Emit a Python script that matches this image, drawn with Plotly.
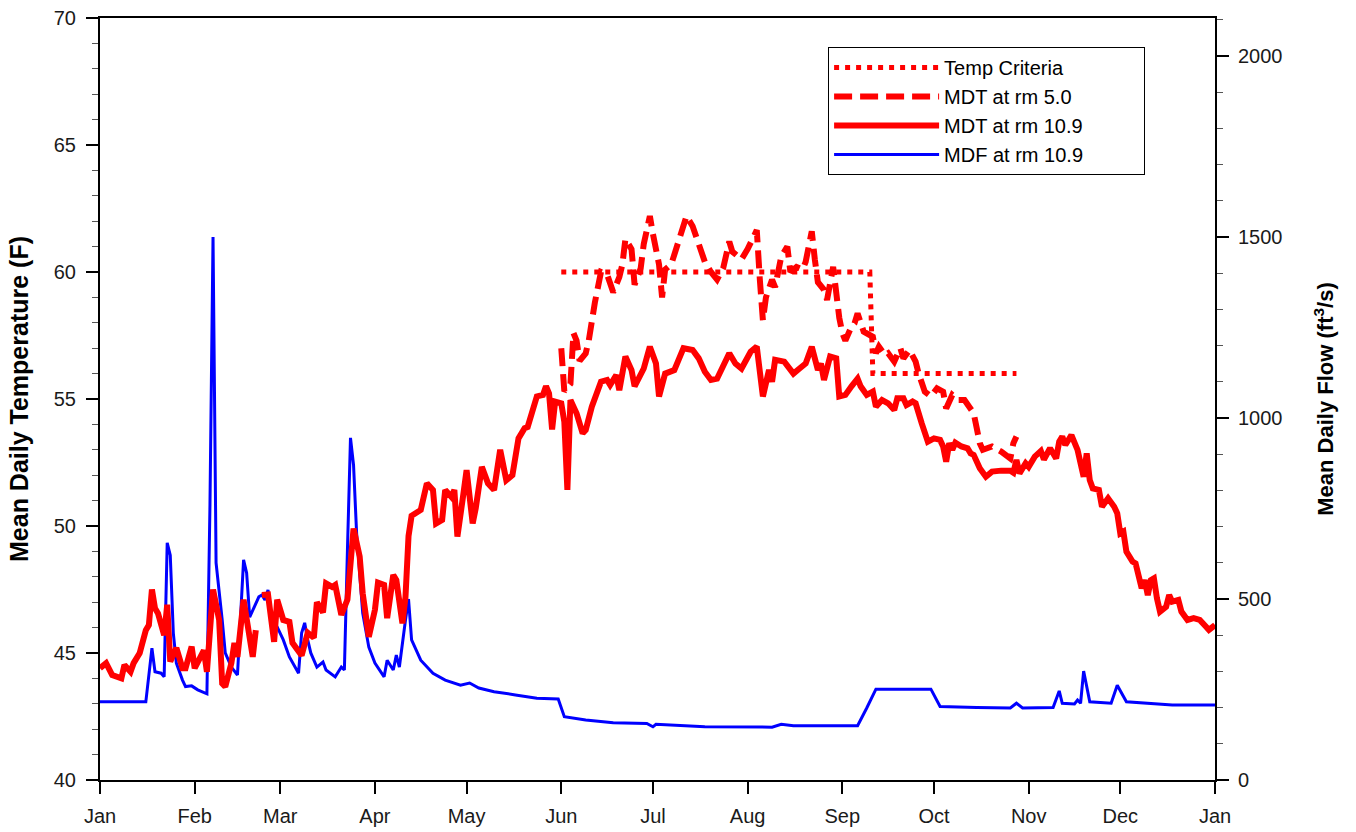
import pandas as pd
import plotly.graph_objects as go

YEAR_START = pd.Timestamp("2010-01-01")

# day-of-year offsets (0 = Jan 1) and values
flow_day = [0, 15, 17, 18, 20, 21, 22, 23, 24, 25, 27, 28, 30, 32, 35, 36, 37, 38, 40, 41, 43, 45,
            47, 48, 49, 51, 52, 53, 54, 55, 56, 58, 60, 62, 64, 65, 66, 67, 68, 69, 71, 73, 74, 77,
            79, 80, 81, 82, 83, 84, 86, 88, 90, 93, 94, 96, 97, 98, 100, 101, 102, 105, 109, 113,
            118, 121, 124, 129, 136, 143, 150, 152, 159, 168, 179, 181, 182, 198, 220, 223, 227,
            248, 251, 254, 272, 275, 287, 298, 300, 302, 312, 314, 315, 319, 320, 321, 322, 324,
            331, 333, 336, 342, 351, 365]
flow_cfs = [216, 216, 364, 299, 295, 285, 655, 621, 406, 323, 276, 258, 260, 249, 238, 760, 1500,
            600, 442, 351, 312, 290, 608, 572, 450, 489, 506, 511, 497, 525, 450, 423, 387, 340,
            309, 295, 406, 434, 387, 351, 312, 326, 304, 285, 312, 304, 635, 945, 870, 682, 461,
            367, 323, 285, 331, 304, 345, 312, 442, 500, 387, 331, 295, 276, 262, 268, 254, 244,
            235, 226, 224, 175, 166, 158, 156, 147, 154, 147, 146, 154, 150, 150, 199, 251, 251,
            203, 200, 199, 212, 199, 200, 246, 212, 210, 221, 212, 301, 216, 212, 262, 216, 212,
            207, 207]

t109_day = [0, 2, 4, 7, 8, 10, 11, 13, 15, 16, 17, 18, 19, 21, 22, 23, 25, 27, 28, 30, 31, 33, 34,
            35, 37, 39, 40, 41, 43, 44, 45, 47, 49, 50, 51, 52, 53, 55, 57, 58, 60, 62, 63, 64, 66,
            68, 70, 71, 73, 74, 76, 77, 79, 81, 83, 85, 86, 88, 90, 91, 93, 94, 96, 97, 99, 100,
            101, 102, 105, 107, 109, 110, 112, 113, 115, 116, 117, 119, 120, 122, 123, 125, 127,
            129, 131, 133, 135, 137, 139, 140, 143, 145, 146, 147, 148, 149, 151, 152, 153, 154,
            156, 158, 159, 161, 163, 164, 166, 167, 169, 170, 172, 174, 175, 178, 180, 182, 183,
            185, 188, 189, 191, 194, 196, 198, 200, 202, 204, 206, 208, 210, 213, 215, 217, 219,
            220, 221, 224, 225, 227, 229, 231, 233, 235, 236, 237, 239, 241, 242, 244, 246, 248,
            249, 251, 253, 254, 256, 258, 260, 261, 263, 264, 266, 267, 269, 271, 273, 275, 276,
            277, 278, 279, 280, 282, 284, 285, 286, 288, 290, 292, 295, 298, 299, 300, 301, 303,
            304, 306, 308, 309, 311, 313, 314, 315, 316, 318, 320, 321, 322, 323, 324, 325, 327,
            328, 330, 332, 333, 334, 335, 336, 338, 339, 340, 341, 342, 343, 344, 345, 346, 347,
            349, 350, 351, 353, 354, 356, 358, 360, 362, 363, 365]
t109_f = [44.4, 44.6, 44.13, 44.0, 44.53, 44.26, 44.6, 45.0, 45.9, 46.1, 47.5, 46.76, 46.56, 45.7,
          46.9, 44.66, 45.2, 44.4, 44.4, 45.25, 44.4, 44.85, 45.1, 44.26, 47.5, 46.3, 43.8, 43.67,
          44.6, 45.4, 44.85, 47.1, 45.8, 44.85, 45.9, None, 47.28, 47.3, 45.44, 47.1, 46.3, 46.23,
          45.4, 45.25, 44.9, 45.8, 45.6, 47.0, 46.6, 47.74, 47.6, 47.68, 46.5, 47.1, 49.9, 48.8,
          47.35, 45.64, 46.7, 47.77, 47.68, 46.37, 48.07, 47.87, 46.17, 47.2, 49.6, 50.4, 50.63,
          51.68, 51.42, 50.1, 50.24, 51.42, 51.15, 51.42, 49.58, 51.3, 52.2, 50.1, 50.7, 52.33,
          51.68, 51.42, 53.0, 51.8, 52.0, 53.45, 53.85, 53.9, 55.1, 55.16, 55.5, 55.22, 53.8, 54.9,
          54.83, 54.1, 51.42, 54.96, 54.44, 53.65, 53.78, 54.7, 55.35, 55.68, 55.75, 55.55, 55.94,
          55.35, 56.67, 56.14, 55.5, 56.2, 57.06, 56.4, 55.1, 56.0, 56.14, 56.4, 57.0, 56.93, 56.6,
          56.07, 55.75, 55.8, 56.27, 56.8, 56.4, 56.2, 56.86, 57.06, 55.1, 56.14, 55.68, 56.54,
          56.47, 56.34, 56.0, 56.2, 56.4, 57.06, 56.14, 56.4, 55.75, 56.67, 56.6, 55.1, 55.16,
          55.5, 55.8, 55.5, 55.16, 55.29, 54.7, 54.96, 54.83, 54.57, 55.03, 55.03, 54.76, 54.9,
          54.83, 54.04, 53.32, 53.45, 53.39, 53.13, 52.53, 53.26, 53.0, 53.28, 53.13, 53.06, 52.86,
          52.8, 52.27, 51.94, 52.14, 52.18, 52.18, 52.1, 52.6, 52.07, 52.47, 52.33, 52.73, 52.95,
          52.62, 53.06, 52.66, 53.32, 53.52, 53.19, 53.58, 53.0, 52.47, 51.94, 52.86, 51.81, 51.48,
          51.42, 50.76, 51.09, 50.76, 50.5, 49.71, 49.78, 48.99, 48.6, 48.53, 48.0, 47.55, 47.87,
          47.28, 47.87, 47.94, 47.15, 46.63, 46.82, 47.28, 47.02, 47.09, 46.63, 46.3, 46.37, 46.3,
          46.04, 45.91, 46.1]

t50_day = [151, 152, 154, 155, 156, 157, 159, 160, 162, 163, 164, 166, 168, 170, 171, 172, 174, 175,
           177, 178, 180, 181, 183, 184, 185, 187, 189, 192, 194, 196, 198, 200, 202, 204, 206, 207,
           210, 212, 215, 216, 217, 218, 220, 221, 223, 225, 226, 228, 230, 231, 233, 234, 235, 237,
           238, 240, 241, 242, 243, 244, 246, 247, 248, 250, 253, 254, 255, 257, 258, 260, 262, 263,
           265, 267, 268, 269, 270, 272, 274, 276, 277, 279, 281, 283, 285, 286, 287, 288, 289, 292,
           295, 298, 299, 300]
t50_f = [57.0, 55.3, 55.6, 57.6, 57.3, 56.5, 56.8, 57.3, 58.8, 59.5, 60.0, 59.9, 59.2, 59.8, 60.3,
         61.3, 60.9, 59.5, 60.15, 61.1, 62.2, 61.5, 60.3, 59.0, 60.1, 60.3, 61.0, 62.2, 61.8, 61.1,
         60.4, 60.0, 59.7, 60.15, 61.2, 60.8, 60.5, 60.9, 61.65, 59.7, 58.1, 59.0, 59.7, 59.4, 60.6,
         61.0, 60.0, 60.2, 60.1, 60.4, 61.6, 60.5, 59.6, 59.3, 58.9, 60.2, 59.0, 58.2, 57.6, 57.3,
         57.85, 57.98, 58.37, 57.65, 57.45, 56.8, 57.06, 56.73, 56.8, 56.47, 57.0, 56.6, 56.93,
         56.47, 56.0, 55.6, 55.29, 55.1, 55.42, 55.29, 54.63, 55.16, 54.96, 54.96, 54.63, 54.44,
         53.85, 53.26, 53.0, 53.13, 52.93, 52.66, 53.26, 53.52]

crit_day = [151, 252, 253, 300]
crit_f = [60, 60, 56, 56]


def to_dates(days):
    return YEAR_START + pd.to_timedelta(days, unit="D")


FONT = "Arial, Liberation Sans, sans-serif"
RED = "#FF0000"
BLUE = "#0000FF"
NBSP = "\u00a0"

fig = go.Figure()
fig.add_trace(go.Scatter(
    x=to_dates(flow_day), y=flow_cfs, mode="lines", name="MDF at rm 10.9",
    line=dict(color=BLUE, width=3), yaxis="y", legendrank=4, legendgroup="d",
))
fig.add_trace(go.Scatter(
    x=to_dates(crit_day), y=crit_f, mode="lines", name="Temp Criteria",
    line=dict(color=RED, width=5, dash="5px,6px"), yaxis="y2", legendrank=1, legendgroup="a",
))
fig.add_trace(go.Scatter(
    x=to_dates(t50_day), y=t50_f, mode="lines", name="MDT at rm 5.0",
    line=dict(color=RED, width=6, dash="18px,8px"), yaxis="y2", legendrank=2, legendgroup="b",
))
fig.add_trace(go.Scatter(
    # trailing spaces widen the legend box on the right like the original
    x=to_dates(t109_day), y=t109_f, mode="lines", name="MDT at rm 10.9" + NBSP * 10,
    line=dict(color=RED, width=6), yaxis="y2", legendrank=3, legendgroup="c",
    connectgaps=False,
))

tickfont = dict(family=FONT, size=20, color="#1a1a1a")

fig.update_layout(
    width=1356, height=832,
    paper_bgcolor="white", plot_bgcolor="white",
    margin=dict(l=100, r=141, t=18, b=52, autoexpand=False),
    font=dict(family=FONT, color="#000000"),
    showlegend=True,
    legend=dict(
        x=0.653, y=0.962, xanchor="left", yanchor="top",
        bgcolor="white", bordercolor="black", borderwidth=1,
        font=dict(family=FONT, size=20, color="#000000"),
        itemwidth=105, tracegroupgap=8, traceorder="normal",
    ),
    xaxis=dict(
        type="date", range=["2010-01-01", "2011-01-01"],
        dtick="M1", tick0="2010-01-01", tickformat="%b",
        ticks="outside", ticklen=12, tickwidth=2, tickcolor="black",
        showline=True, linecolor="black", linewidth=2, mirror=True,
        showgrid=False, zeroline=False, tickfont=tickfont, ticklabelstandoff=5,
        automargin=False,
    ),
    yaxis=dict(
        range=[0, 2105], dtick=500, tick0=0, side="right",
        ticks="outside", ticklen=12, tickwidth=1.5, tickcolor="black",
        minor=dict(dtick=100, ticks="outside", ticklen=6, tickcolor="#555", tickwidth=1),
        showline=True, linecolor="black", linewidth=2,
        showgrid=False, zeroline=False, tickfont=tickfont, ticklabelstandoff=5,
        automargin=False,
        title=dict(text="Mean Daily Flow (ft<sup>3</sup>/s)", standoff=36,
                   font=dict(family=FONT, size=22, color="#000000", weight="bold")),
    ),
    yaxis2=dict(
        range=[40, 70], dtick=5, tick0=40, side="left", overlaying="y",
        ticks="outside", ticklen=12, tickwidth=2, tickcolor="black",
        minor=dict(dtick=1, ticks="outside", ticklen=6, tickcolor="#555", tickwidth=1),
        showline=True, linecolor="black", linewidth=2,
        showgrid=False, zeroline=False, tickfont=tickfont, ticklabelstandoff=6,
        automargin=False,
        title=dict(text="Mean Daily Temperature (F)", standoff=18,
                   font=dict(family=FONT, size=25, color="#000000", weight="bold")),
    ),
)

# the page's default body margin would shift the figure by 8px
fig.write_html("out.html", config={"displayModeBar": False},
               post_script="document.body.style.margin = '0';")
